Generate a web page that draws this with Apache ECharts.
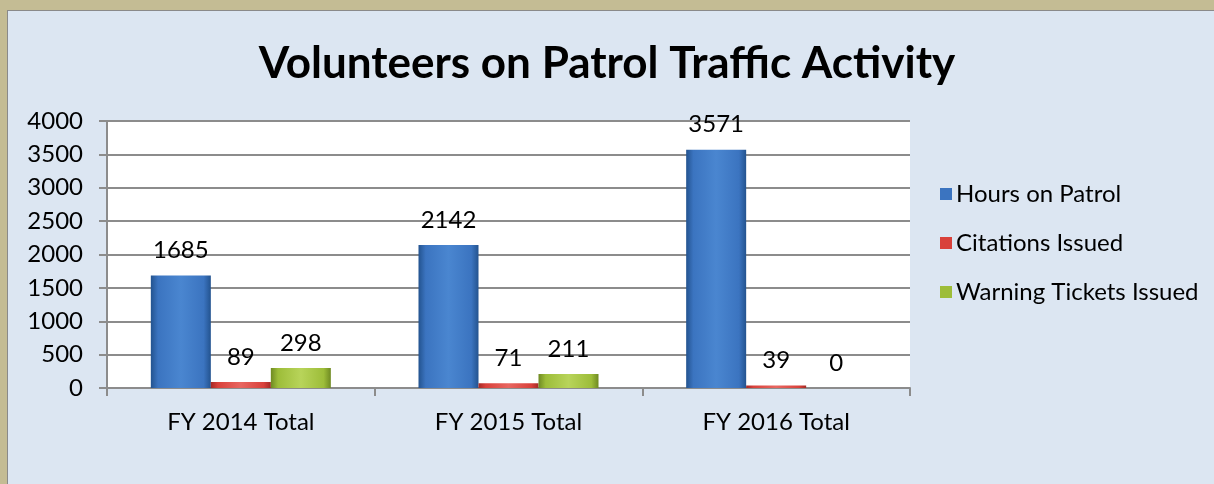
<!DOCTYPE html>
<html>
<head>
<meta charset="utf-8">
<script src="https://cdn.jsdelivr.net/npm/echarts@6/dist/echarts.min.js"></script>
<style>
  html, body { margin: 0; padding: 0; background: #c4bc94; }
  #frame {
    position: absolute; left: 7px; top: 10px; width: 1207px; height: 474px;
    background: #dce6f2; border-left: 1px solid #8a8a8a; border-top: 1px solid #8a8a8a;
    box-sizing: border-box;
  }
  #chart { position: absolute; left: 0; top: 0; width: 1214px; height: 484px; }
</style>
</head>
<body>
<div id="frame"></div>
<div id="chart"></div>
<script>
const categories = ['FY 2014 Total', 'FY 2015 Total', 'FY 2016 Total']
const hoursOnPatrol = [1685, 2142, 3571]
const citationsIssued = [89, 71, 39]
const warningTickets = [298, 211, 0]
const yTicks = [0, 500, 1000, 1500, 2000, 2500, 3000, 3500, 4000]

const chart = echarts.init(document.getElementById('chart'))
const font = 'Lato, "Open Sans", sans-serif'

function bevel (dark, mid, light) {
  return new echarts.graphic.LinearGradient(0, 0, 1, 0, [
    { offset: 0, color: dark },
    { offset: 0.12, color: mid },
    { offset: 0.5, color: light },
    { offset: 0.88, color: mid },
    { offset: 1, color: dark }
  ])
}

function barSeries (name, data, colors) {
  return {
    name: name,
    type: 'bar',
    data: data,
    barWidth: 60,
    barGap: '0%',
    itemStyle: { color: bevel(colors[0], colors[1], colors[2]) },
    label: {
      show: true,
      position: 'top',
      distance: 13,
      color: '#000',
      fontSize: 24,
      fontFamily: font
    }
  }
}

const option = {
  animation: false,
  backgroundColor: 'transparent',
  title: {
    text: 'Volunteers on Patrol Traffic Activity',
    left: 'center',
    top: 37,
    textStyle: { fontSize: 44, fontWeight: 'bold', color: '#000', fontFamily: font }
  },
  legend: {
    orient: 'vertical',
    left: 935,
    top: 177,
    itemWidth: 12,
    itemHeight: 12,
    itemGap: 25,
    icon: 'rect',
    textStyle: { fontSize: 24, lineHeight: 24, color: '#000', fontFamily: font, padding: [0, 0, 0, -1] },
    data: ['Hours on Patrol', 'Citations Issued', 'Warning Tickets Issued']
  },
  grid: {
    left: 107, right: 304, top: 121, bottom: 96,
    show: true, backgroundColor: '#ffffff', borderWidth: 0
  },
  xAxis: {
    type: 'category',
    data: categories,
    axisLine: { lineStyle: { color: '#8c8c8c', width: 2 } },
    axisTick: { show: true, length: 8, lineStyle: { color: '#8c8c8c', width: 2 } },
    axisLabel: { color: '#000', fontSize: 24, fontFamily: font, margin: 22 }
  },
  yAxis: {
    type: 'value',
    min: yTicks[0],
    max: yTicks[yTicks.length - 1],
    interval: 500,
    axisLine: { show: true, lineStyle: { color: '#8c8c8c', width: 2 } },
    axisTick: { show: true, length: 8, lineStyle: { color: '#8c8c8c', width: 2 } },
    splitLine: { lineStyle: { color: '#8c8c8c', width: 2 } },
    axisLabel: { color: '#000', fontSize: 24, fontFamily: font, margin: 24, formatter: function (v) { return String(v) } }
  },
  series: [
    barSeries('Hours on Patrol', hoursOnPatrol, ['#23538f', '#3b74c0', '#4a86d0']),
    barSeries('Citations Issued', citationsIssued, ['#a52a25', '#d9413b', '#e86660']),
    barSeries('Warning Tickets Issued', warningTickets, ['#6f8a22', '#9dbd39', '#b8d45a'])
  ]
}
option.legend.data = option.legend.data.map(function (n, i) {
  return { name: n, itemStyle: { color: ['#3b74c0', '#d9413b', '#9dbd39'][i] } }
})
chart.setOption(option)
</script>
</body>
</html>
